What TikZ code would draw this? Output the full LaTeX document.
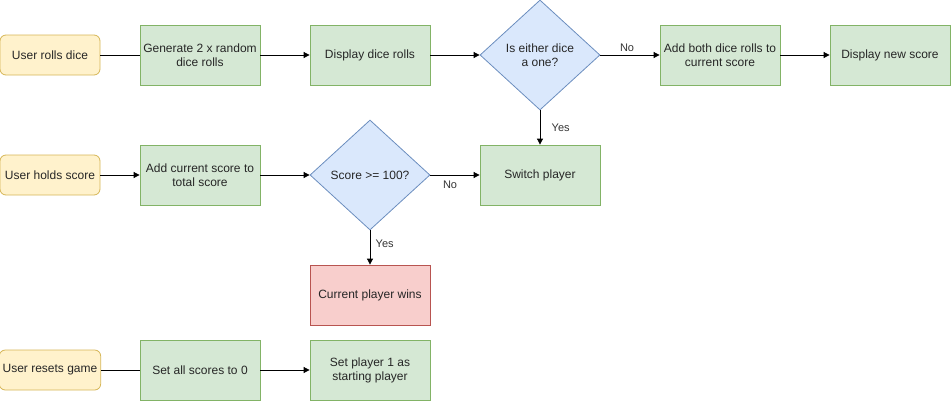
\documentclass[tikz,border=0pt]{standalone}
\usepackage{fontspec}
\setmainfont{Liberation Sans}
\usetikzlibrary{arrows.meta, shapes.geometric}
\definecolor{usrfill}{HTML}{FFF2CC}
\definecolor{usrdraw}{HTML}{D6B656}
\definecolor{stepfill}{HTML}{D5E8D4}
\definecolor{stepdraw}{HTML}{82B366}
\definecolor{askfill}{HTML}{DAE8FC}
\definecolor{askdraw}{HTML}{6C8EBF}
\definecolor{winfill}{HTML}{F8CECC}
\definecolor{windraw}{HTML}{B85450}
\begin{document}
\begin{tikzpicture}[x=1pt, y=-1pt,
    every node/.style={font=\fontsize{12}{14}\selectfont, text=black!85, align=center, line width=0.8pt},
    user/.style={draw=usrdraw, fill=usrfill, rounded corners=6pt, minimum width=100pt, minimum height=40pt},
    stepbox/.style={draw=stepdraw, fill=stepfill, minimum width=120pt, minimum height=60pt},
    ask/.style={diamond, draw=askdraw, fill=askfill, aspect=1.09, inner sep=0pt, minimum width=120pt, minimum height=110pt},
    winbox/.style={draw=windraw, fill=winfill, minimum width=120pt, minimum height=60pt},
    flow/.style={-{Triangle[length=6pt, width=6pt]}, line width=0.8pt},
    plain/.style={line width=0.8pt},
    lbl/.style={font=\fontsize{11}{13}\selectfont, text=black!80}]
    \useasboundingbox (0,0) rectangle (951,400);

    % Rolling the dice
    \node[user] (roll) at (50,55) {User rolls dice};
    \node[stepbox] (gen) at (200,55) {Generate 2 x random\\dice rolls};
    \node[stepbox] (show) at (370,55) {Display dice rolls};
    \node[ask] (one) at (540,55) {Is either dice\\a one?};
    \node[stepbox] (add) at (720,55) {Add both dice rolls to\\current score};
    \node[stepbox] (newscore) at (890,55) {Display new score};

    % Holding the score
    \node[user] (hold) at (50,175) {User holds score};
    \node[stepbox] (total) at (200,175) {Add current score to\\total score};
    \node[ask] (hundred) at (370,175) {Score >= 100?};
    \node[stepbox] (switch) at (540,175) {Switch player};
    \node[winbox] (wins) at (370,295) {Current player wins};

    % Resetting the game
    \node[user] (reset) at (50,370) {User resets game};
    \node[stepbox] (zero) at (200,370) {Set all scores to 0};
    \node[stepbox] (first) at (370,370) {Set player 1 as\\starting player};

    \draw[plain] (roll) -- (gen);
    \draw[flow] (gen) -- (show);
    \draw[flow] (show) -- (one);
    \draw[flow] (one) -- node[lbl, above, pos=0.45] {No} (add);
    \draw[flow] (add) -- (newscore);
    \draw[flow] (one) -- node[lbl, right=8pt, pos=0.5] {Yes} (switch);

    \draw[flow] (hold) -- (total);
    \draw[flow] (total) -- (hundred);
    \draw[flow] (hundred) -- node[lbl, below=2pt, pos=0.4] {No} (switch);
    \draw[flow] (hundred) -- node[lbl, right=2pt, pos=0.4] {Yes} (wins);

    \draw[plain] (reset) -- (zero);
    \draw[flow] (zero) -- (first);
\end{tikzpicture}
\end{document}
